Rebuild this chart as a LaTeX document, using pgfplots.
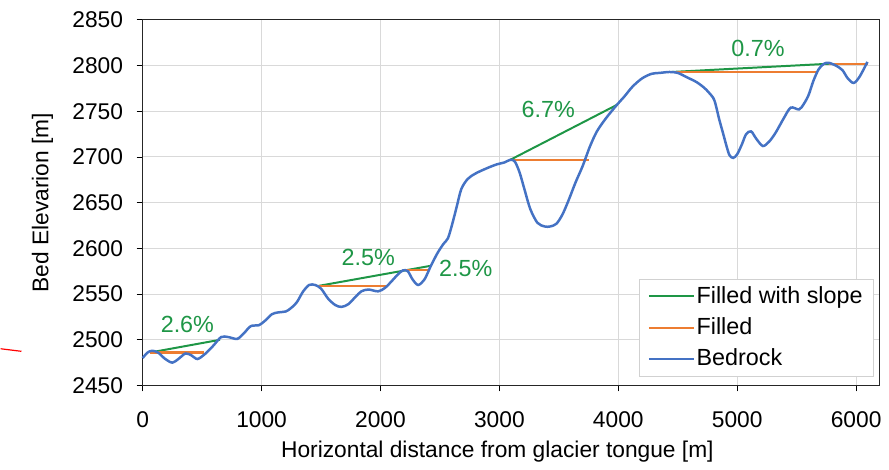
\documentclass[border=0pt]{standalone}
\usepackage{pgfplots}
\pgfplotsset{compat=1.18}
\usepackage{fontspec}
\setmainfont{Liberation Sans}
\definecolor{cblue}{RGB}{68,114,196}
\definecolor{corange}{RGB}{237,125,49}
\definecolor{cgreen}{RGB}{30,150,70}
\definecolor{cgrid}{RGB}{217,217,217}
\newcommand{\fs}{\fontsize{22.9bp}{27bp}\selectfont}
\newcommand{\fl}{\fontsize{23.5bp}{28bp}\selectfont}
\begin{document}
\fs
\begin{tikzpicture}
\begin{axis}[
  scale only axis, width=742bp, height=368bp,
  xmin=0, xmax=6200, ymin=2450, ymax=2850,
  xtick={0,1000,...,6000}, ytick={2450,2500,...,2850},
  /pgf/number format/assume math mode=true,
  /pgf/number format/1000 sep={},
  tick label style={font=\fs},
  label style={font=\fs},
  xticklabel style={yshift=-12bp},
  yticklabel style={xshift=-6bp},
  xlabel={Horizontal distance from glacier tongue [m]},
  ylabel={Bed Elevarion [m]},
  grid=major, major grid style={cgrid, line width=1bp},
  tick align=outside, major tick length=6bp,
  tick style={black, line width=0.8bp},
  xtick pos=bottom, ytick pos=left,
  axis line style={line width=1bp, black!85},
  legend style={at={(0.992,0.025)}, anchor=south east, draw=black!18, line width=0.8bp,
    font=\fl, row sep=7bp, inner xsep=9bp, inner ysep=5bp},
  legend cell align=left,
  legend image code/.code={\draw[#1, line width=2bp] (0bp,0bp) -- (45bp,0bp);},
  xlabel style={yshift=2bp, xshift=-14bp},
  ylabel style={yshift=4bp},
  clip=false,
]
\addplot[cgreen, line width=2bp] coordinates {(100,2487) (650,2500)};
\addlegendentry{Filled with slope}
\addplot[cgreen, line width=2bp, forget plot] coordinates {(1480,2559) (2424,2581)};
\addplot[cgreen, line width=2bp, forget plot] coordinates {(3093,2697) (3988,2757)};
\addplot[cgreen, line width=2bp, forget plot] coordinates {(4450,2793) (5770,2802)};
\addplot[corange, line width=2.3bp] coordinates {(58,2486) (518,2486)};
\addlegendentry{Filled}
\addplot[corange, line width=2.3bp, forget plot] coordinates {(1480,2559) (2048,2559)};
\addplot[corange, line width=2.3bp, forget plot] coordinates {(2190,2576) (2400,2576)};
\addplot[corange, line width=2.3bp, forget plot] coordinates {(3093,2697) (3754,2697)};
\addplot[corange, line width=2.3bp, forget plot] coordinates {(4450,2793) (5676,2793)};
\addplot[corange, line width=2.3bp, forget plot] coordinates {(5770,2802) (6100,2802)};
\addplot[cblue, line width=2.5bp, smooth, tension=0.5] coordinates {
(0,2480) (40,2486) (80,2488) (130,2486) (190,2479) (250,2475) (300,2479) (360,2485)
(410,2483) (460,2479) (520,2484) (590,2493) (660,2503) (720,2503) (795,2501) (850,2507)
(910,2515) (978,2516) (1030,2521) (1087,2528) (1140,2530) (1204,2531) (1250,2535) (1296,2541)
(1350,2553) (1400,2560) (1450,2560) (1500,2556) (1560,2545) (1620,2538) (1672,2536) (1730,2539)
(1790,2547) (1839,2553) (1900,2555) (1981,2553) (2040,2557) (2100,2565) (2150,2572) (2190,2576)
(2230,2575) (2270,2566) (2316,2560) (2370,2566) (2424,2581) (2480,2595) (2530,2605) (2567,2611)
(2600,2625) (2640,2645) (2680,2665) (2734,2676) (2800,2682) (2900,2688) (2980,2692) (3043,2694)
(3093,2697) (3130,2695) (3170,2683) (3210,2665) (3260,2643) (3320,2628) (3380,2624) (3428,2624)
(3480,2627) (3530,2637) (3580,2652) (3640,2672) (3700,2690) (3760,2711) (3820,2728) (3900,2743)
(3988,2757) (4050,2766) (4120,2777) (4200,2786) (4280,2791) (4350,2792) (4430,2793) (4500,2792)
(4580,2787) (4657,2782) (4720,2776) (4765,2770) (4808,2762) (4849,2741) (4883,2725) (4910,2712)
(4935,2702) (4966,2699) (5000,2703) (5040,2714) (5075,2725) (5117,2728) (5160,2720) (5216,2712)
(5270,2717) (5325,2727) (5390,2742) (5450,2754) (5520,2752) (5560,2758) (5601,2768) (5640,2783)
(5685,2796) (5730,2802) (5770,2803) (5830,2800) (5885,2795) (5930,2786) (5980,2781) (6030,2788)
(6095,2804)};
\addlegendentry{Bedrock}
\node[cgreen, font=\fl] at (axis cs:376,2517) {2.6\%};
\node[cgreen, font=\fl] at (axis cs:1898,2590) {2.5\%};
\node[cgreen, font=\fl] at (axis cs:2717,2578) {2.5\%};
\node[cgreen, font=\fl] at (axis cs:3411,2752) {6.7\%};
\node[cgreen, font=\fl] at (axis cs:5175,2819) {0.7\%};
\draw[red, line width=1.2bp] (rel axis cs:0,0) ++(-143bp,37bp) -- ++(21bp,-2.6bp);
\path (rel axis cs:0,1) ++(0bp,20bp);
\path (rel axis cs:0,0) ++(0bp,-74bp);
\path (rel axis cs:1,0) ++(4bp,0bp);
\end{axis}
\end{tikzpicture}
\end{document}
